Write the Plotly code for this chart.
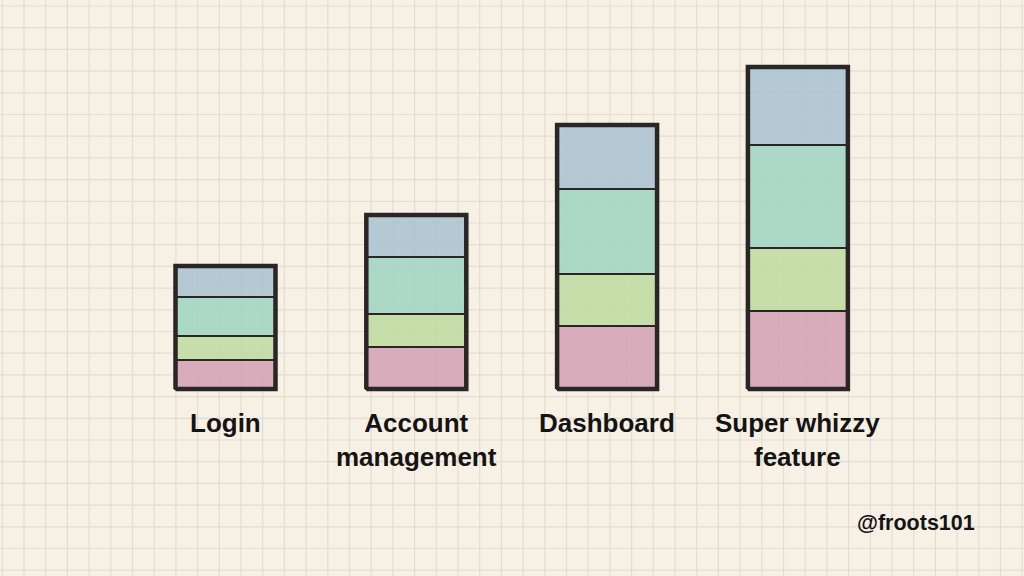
import plotly.graph_objects as go

categories = ["Login", "Account<br>management", "Dashboard", "Super whizzy<br>feature"]
series_names = ["Pink", "Green", "Teal", "Blue"]
pink = [29, 42, 63, 78]
green = [24, 33, 52, 63]
teal = [39, 57, 85, 103]
blue = [31, 42, 64, 78]
series_values = [pink, green, teal, blue]
series_colors = ["rgba(212,160,180,0.85)", "rgba(192,218,160,0.85)",
                 "rgba(158,212,194,0.85)", "rgba(168,194,208,0.85)"]

W, H = 1024, 576
px_per_cat = 190.8
x_first = 225.5
baseline_px = 389
bar_w = 0.524
ink = "#2a2626"

xs = list(range(len(categories)))
fig = go.Figure()
for name, vals, col in zip(series_names, series_values, series_colors):
    fig.add_trace(go.Bar(x=xs, y=vals, name=name, width=bar_w,
                         marker=dict(color=col, line=dict(color=ink, width=2.2)),
                         hoverinfo="skip"))

# thick outer outline of each stacked bar, from the totals
totals = [sum(v[i] for v in series_values) for i in xs]
ox, oy = [], []
for i, t in zip(xs, totals):
    h = bar_w / 2
    ox += [i - h, i - h, i + h, i + h, i - h, None]
    oy += [0, t, t, 0, 0, None]
fig.add_trace(go.Scatter(x=ox, y=oy, mode="lines", line=dict(color=ink, width=4.5),
                         hoverinfo="skip", showlegend=False))

# grid paper
grid_col = "#e3dccf"
shapes = []
g = 21.7
x = 2.3
while x < W:
    shapes.append(dict(type="line", xref="paper", yref="paper", x0=x / W, x1=x / W, y0=0, y1=1,
                       line=dict(color=grid_col, width=1.2), layer="below"))
    x += g
y = 6.0
while y < H:
    shapes.append(dict(type="line", xref="paper", yref="paper", x0=0, x1=1, y0=1 - y / H, y1=1 - y / H,
                       line=dict(color=grid_col, width=1.2), layer="below"))
    y += g

annotations = []
for i, c in zip(xs, categories):
    annotations.append(dict(x=i, y=-17, xref="x", yref="y", text="<b>" + c + "</b>",
                            showarrow=False, yanchor="top", xanchor="center",
                            font=dict(family="Liberation Sans, Arial, sans-serif", size=26, color="#141414")))
annotations.append(dict(x=916 / W, y=1 - 523 / H, xref="paper", yref="paper", text="<b>@froots101</b>",
                        showarrow=False, xanchor="center", yanchor="middle",
                        font=dict(family="Liberation Sans, Arial, sans-serif", size=21.5, color="#141414")))

fig.update_layout(
    width=W, height=H, margin=dict(l=0, r=0, t=0, b=0),
    barmode="stack", showlegend=False,
    paper_bgcolor="#f7f0e4", plot_bgcolor="#f7f0e4",
    xaxis=dict(range=[(0 - x_first) / px_per_cat, (W - x_first) / px_per_cat],
               visible=False, fixedrange=True),
    yaxis=dict(range=[baseline_px - H, baseline_px], visible=False, fixedrange=True),
    shapes=shapes, annotations=annotations,
)
fig.write_html("out.html")
